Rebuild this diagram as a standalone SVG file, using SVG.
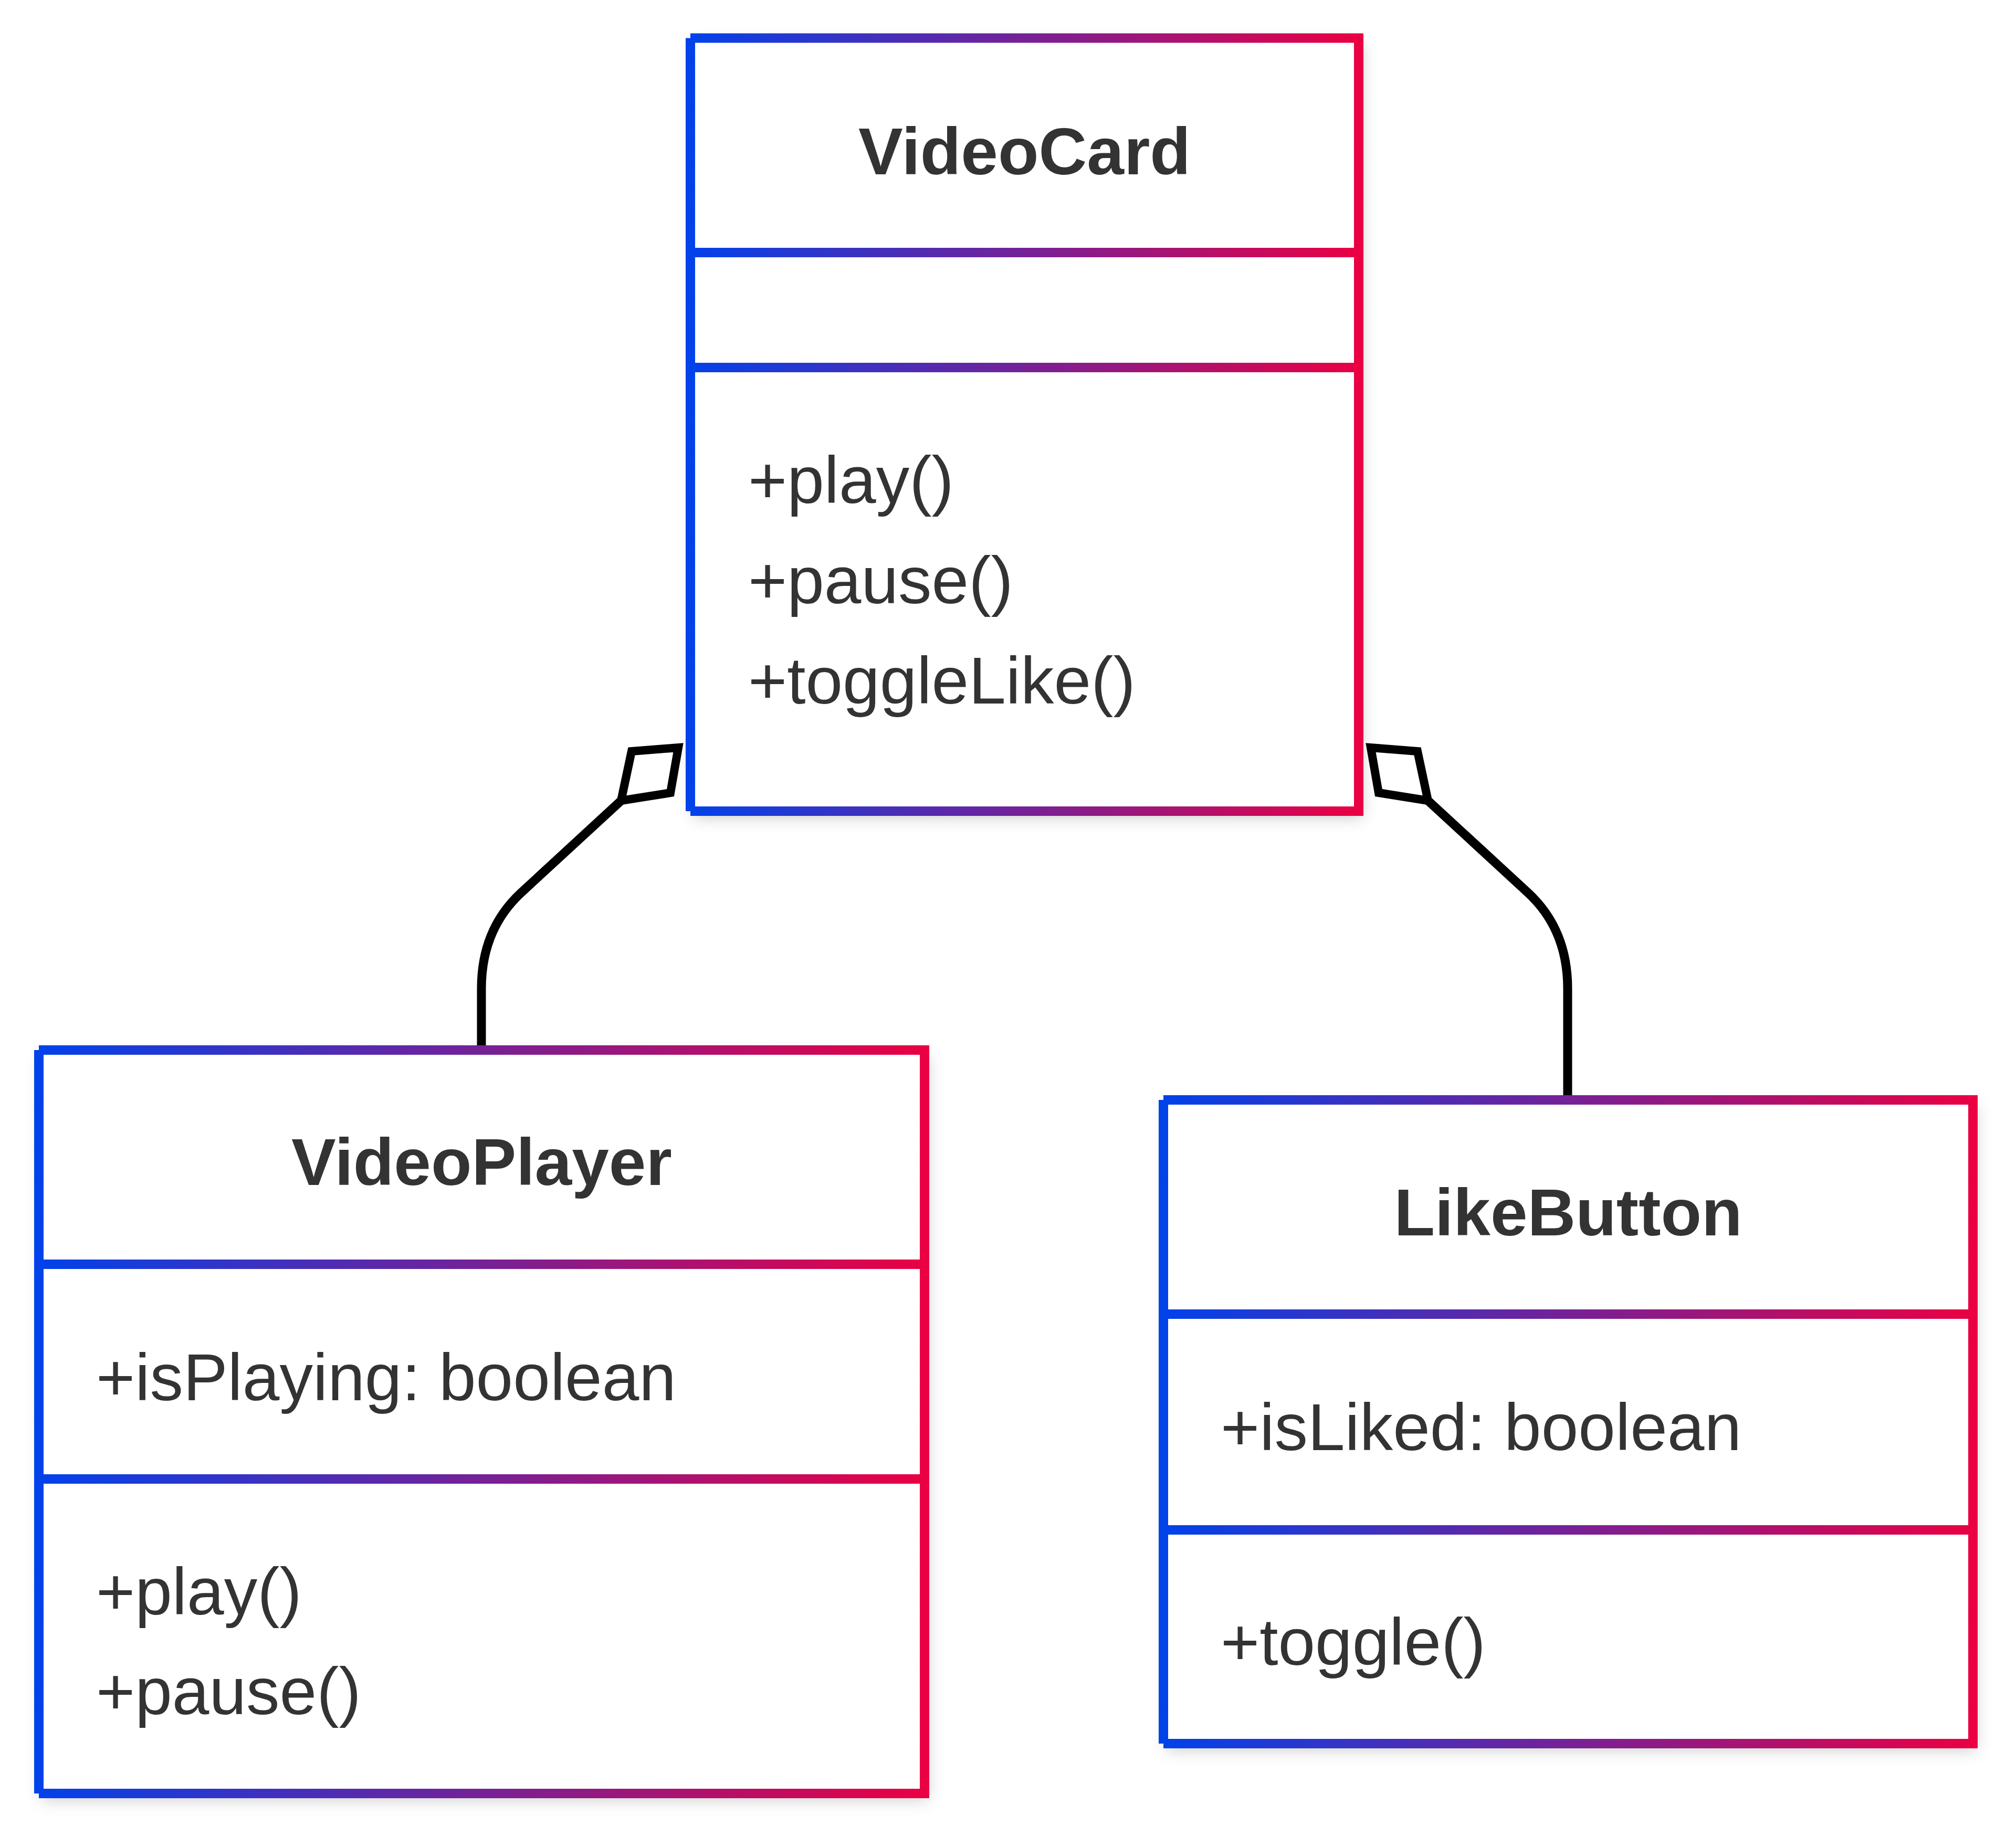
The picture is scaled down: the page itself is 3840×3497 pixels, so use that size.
<svg xmlns="http://www.w3.org/2000/svg" width="3840" height="3497" viewBox="0 0 3840 3497">
<style>
.bg{fill:#ffffff;filter:url(#shadow);}
.title{font-family:"Liberation Sans",Arial,sans-serif;font-size:127px;font-weight:bold;fill:#333333;text-anchor:middle;}
.member{font-family:"Liberation Sans",Arial,sans-serif;font-size:127px;fill:#333333;}
.edge{fill:none;stroke:#000000;stroke-width:17;}
.diamond{fill:#ffffff;stroke:#000000;stroke-width:16;stroke-linejoin:miter;}
.border{fill:none;stroke-width:18;stroke-linecap:butt;stroke-linejoin:miter;}
</style>
<defs>
<filter id="shadow" x="-10%" y="-10%" width="125%" height="125%">
<feDropShadow dx="6" dy="12" stdDeviation="15" flood-color="#000000" flood-opacity="0.2"/>
</filter>
<linearGradient id="gCard" gradientUnits="userSpaceOnUse" x1="1306" y1="0" x2="2597" y2="0">
<stop offset="0" stop-color="#0042eb"/><stop offset="1" stop-color="#eb0042"/>
</linearGradient>
<linearGradient id="gPlayer" gradientUnits="userSpaceOnUse" x1="65" y1="0" x2="1770" y2="0">
<stop offset="0" stop-color="#0042eb"/><stop offset="1" stop-color="#eb0042"/>
</linearGradient>
<linearGradient id="gLike" gradientUnits="userSpaceOnUse" x1="2207" y1="0" x2="3767" y2="0">
<stop offset="0" stop-color="#0042eb"/><stop offset="1" stop-color="#eb0042"/>
</linearGradient>
</defs>
<rect x="0" y="0" width="3840" height="3497" fill="#ffffff"/>

<g id="connectors">
<path class="edge" d="M 1183,1525 L 993,1700 Q 917,1770 917,1883 L 917,1992"/>
<polygon class="diamond" points="1292,1424 1203,1431 1183,1525 1277,1510"/>
<path class="edge" d="M 2720,1525 L 2910,1700 Q 2986,1770 2986,1883 L 2986,2087"/>
<polygon class="diamond" points="2611,1424 2700,1431 2720,1525 2626,1510"/>
</g>

<g id="VideoCard">
<rect class="bg" x="1315" y="72.5" width="1273" height="1472.5"/>
<path class="border" stroke="url(#gCard)" d="M 1315,72.5 H 2588 V 1545 H 1315"/>
<path class="border" stroke="url(#gCard)" d="M 1315,72.5 V 1545"/>
<path class="border" stroke="url(#gCard)" d="M 1315,481 H 2588 M 1315,700 H 2588"/>
<text class="title" x="1951.5" y="332">VideoCard</text>
<text class="member" x="1425" y="958">+play()</text>
<text class="member" x="1425" y="1149">+pause()</text>
<text class="member" x="1425" y="1340">+toggleLike()</text>
</g>

<g id="VideoPlayer">
<rect class="bg" x="74" y="2000" width="1687" height="1416"/>
<path class="border" stroke="url(#gPlayer)" d="M 74,2000 H 1761 V 3416 H 74"/>
<path class="border" stroke="url(#gPlayer)" d="M 74,2000 V 3416"/>
<path class="border" stroke="url(#gPlayer)" d="M 74,2408 H 1761 M 74,2817 H 1761"/>
<text class="title" x="917.5" y="2257">VideoPlayer</text>
<text class="member" x="183" y="2667">+isPlaying: boolean</text>
<text class="member" x="183" y="3075">+play()</text>
<text class="member" x="183" y="3265">+pause()</text>
</g>

<g id="LikeButton">
<rect class="bg" x="2216" y="2095" width="1542" height="1226"/>
<path class="border" stroke="url(#gLike)" d="M 2216,2095 H 3758 V 3321 H 2216"/>
<path class="border" stroke="url(#gLike)" d="M 2216,2095 V 3321"/>
<path class="border" stroke="url(#gLike)" d="M 2216,2503 H 3758 M 2216,2914 H 3758"/>
<text class="title" x="2987" y="2353">LikeButton</text>
<text class="member" x="2325" y="2762">+isLiked: boolean</text>
<text class="member" x="2325" y="3171">+toggle()</text>
</g>
</svg>
